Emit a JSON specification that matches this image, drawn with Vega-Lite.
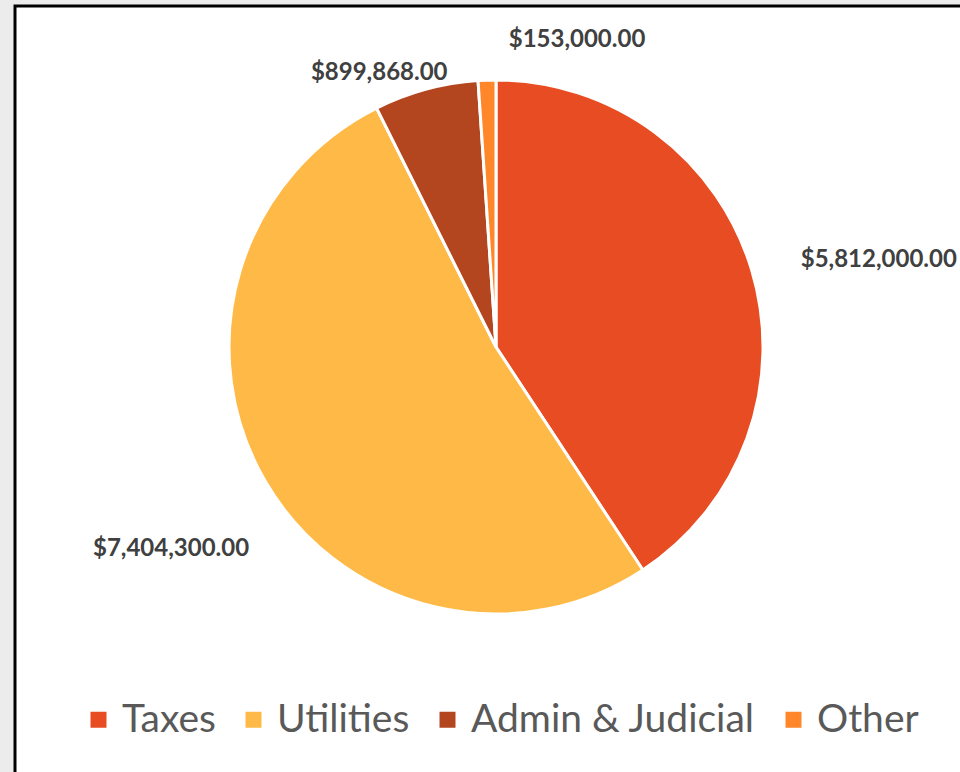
{
  "$schema": "https://vega.github.io/schema/vega-lite/v6.json",
  "width": 962,
  "height": 768,
  "padding": {"left": 15, "top": 6, "right": 0, "bottom": 0},
  "background": "#ececec",
  "view": {"fill": "white", "stroke": "black", "strokeWidth": 3},
  "config": {
    "font": "Lato"
  },
  "data": {
    "values": [
      {"category": "Taxes", "value": 5812000, "label": "$5,812,000.00", "idx": 1},
      {"category": "Utilities", "value": 7404300, "label": "$7,404,300.00", "idx": 2},
      {"category": "Admin & Judicial", "value": 899868, "label": "$899,868.00", "idx": 3},
      {"category": "Other", "value": 153000, "label": "$153,000.00", "idx": 4}
    ]
  },
  "encoding": {
    "theta": {"field": "value", "type": "quantitative", "stack": true},
    "order": {"field": "idx", "type": "quantitative"}
  },
  "layer": [
    {
      "mark": {"type": "arc", "outerRadius": 267, "stroke": "white", "strokeWidth": 3, "y": {"expr": "height/2 - 43"}},
      "encoding": {
        "color": {
          "field": "category",
          "type": "nominal",
          "scale": {"domain": ["Taxes", "Utilities", "Admin & Judicial", "Other"], "range": ["#E84C22", "#FFB947", "#B3461F", "#FF8629"]},
          "legend": {
            "title": null,
            "orient": "none",
            "direction": "horizontal",
            "columns": 4,
            "legendX": 64,
            "legendY": 694,
            "symbolType": "square",
            "symbolSize": 256,
            "symbolStrokeWidth": 0,
            "labelFontSize": 39,
            "labelColor": "#595959",
            "labelFont": "Lato",
            "labelOffset": 4,
            "columnPadding": 18,
            "labelLimit": 400
          }
        }
      }
    },
    {
      "mark": {"type": "text", "radius": 315, "align": "left", "baseline": "middle", "dx": 3, "dy": 3, "fontSize": 24, "fontWeight": "bold", "color": "#404040", "y": {"expr": "height/2 - 43"}},
      "encoding": {"text": {"condition": {"test": "datum.category === 'Taxes'", "field": "label"}, "value": ""}}
    },
    {
      "mark": {"type": "text", "radius": 300, "align": "right", "baseline": "middle", "dx": 13, "dy": 52, "fontSize": 24, "fontWeight": "bold", "color": "#404040", "y": {"expr": "height/2 - 43"}},
      "encoding": {"text": {"condition": {"test": "datum.category === 'Utilities'", "field": "label"}, "value": ""}}
    },
    {
      "mark": {"type": "text", "radius": 280, "align": "right", "baseline": "middle", "dx": 25, "dy": -4, "fontSize": 24, "fontWeight": "bold", "color": "#404040", "y": {"expr": "height/2 - 43"}},
      "encoding": {"text": {"condition": {"test": "datum.category === 'Admin & Judicial'", "field": "label"}, "value": ""}}
    },
    {
      "mark": {"type": "text", "radius": 305, "align": "left", "baseline": "middle", "dx": 23, "dy": -2, "fontSize": 24, "fontWeight": "bold", "color": "#404040", "y": {"expr": "height/2 - 43"}},
      "encoding": {"text": {"condition": {"test": "datum.category === 'Other'", "field": "label"}, "value": ""}}
    }
  ]
}
